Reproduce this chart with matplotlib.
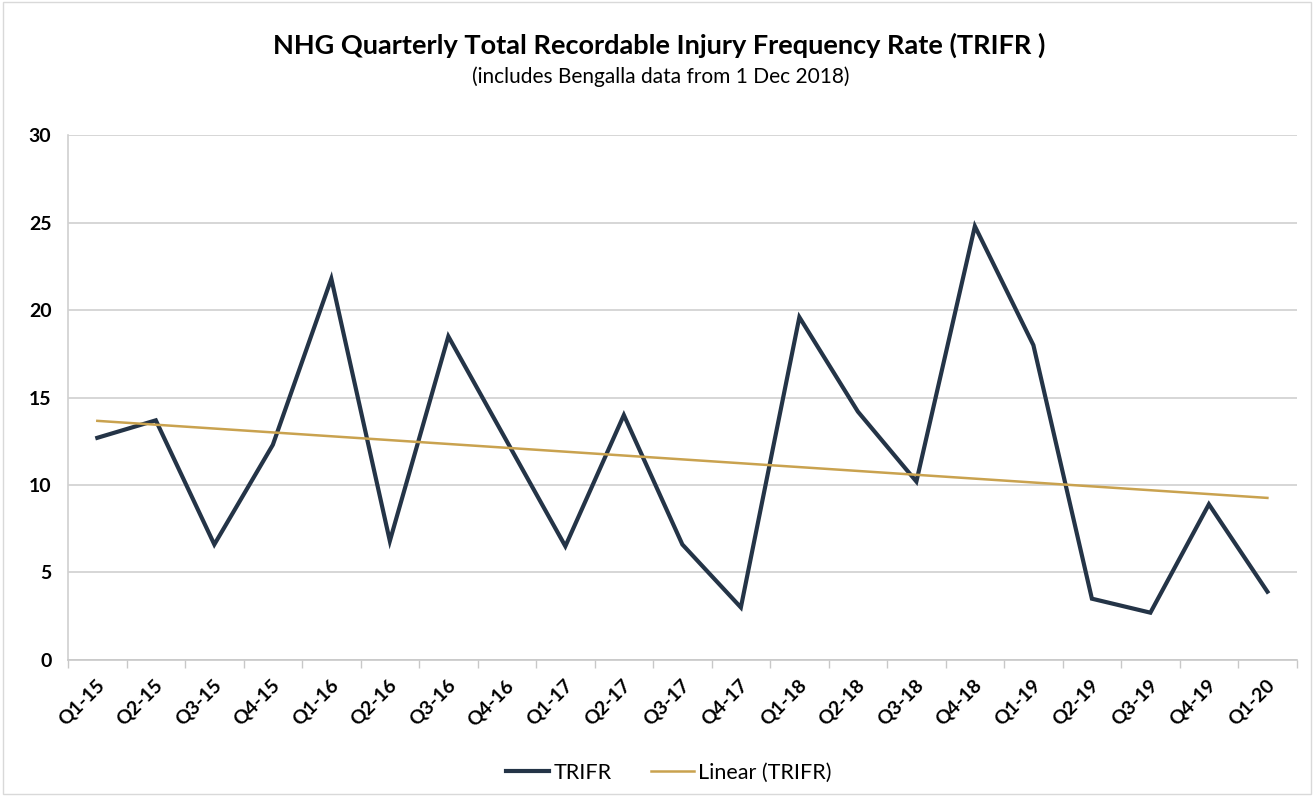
import numpy as np
import matplotlib.pyplot as plt
from matplotlib.ticker import FixedLocator
from matplotlib.transforms import ScaledTranslation

plt.rcParams['font.family'] = ['Lato', 'DejaVu Sans']

quarters = ['Q1-15', 'Q2-15', 'Q3-15', 'Q4-15', 'Q1-16', 'Q2-16', 'Q3-16',
            'Q4-16', 'Q1-17', 'Q2-17', 'Q3-17', 'Q4-17', 'Q1-18', 'Q2-18',
            'Q3-18', 'Q4-18', 'Q1-19', 'Q2-19', 'Q3-19', 'Q4-19', 'Q1-20']
trifr = [12.7, 13.7, 6.6, 12.3, 21.8, 6.8, 18.5,
         12.5, 6.5, 14.0, 6.6, 3.0, 19.6, 14.2,
         10.2, 24.8, 18.0, 3.5, 2.7, 8.9, 3.9]
yticks = [0, 5, 10, 15, 20, 25, 30]

x = np.arange(len(quarters))
y = np.array(trifr)
# linear trendline like Excel's "Linear (TRIFR)"
slope, intercept = np.polyfit(x, y, 1)
trend = slope * x + intercept

fig = plt.figure(figsize=(13.14, 7.96), dpi=100)
ax = fig.add_axes([0.0518, 0.171, 0.935, 0.659])

ax.plot(x, y, color='#243447', linewidth=3.0, label='TRIFR', solid_joinstyle='miter')
ax.plot(x, trend, color='#c9a24f', linewidth=1.8, label='Linear (TRIFR)')

ax.set_xlim(-0.5, len(quarters) - 0.5)
ax.set_ylim(0, 30)
ax.set_yticks(yticks)
ax.set_yticklabels([str(t) for t in yticks], fontsize=14, fontweight='bold')
ax.set_xticks(x)
ax.set_xticklabels(quarters, rotation=45, ha='right', rotation_mode='anchor',
                   fontsize=14, fontweight='bold')
ax.xaxis.set_minor_locator(FixedLocator(np.arange(-0.5, len(quarters), 1)))
ax.tick_params(axis='x', which='major', length=0, pad=12)
ax.tick_params(axis='x', which='minor', length=6, color='#c8c8c8', width=1)
ax.tick_params(axis='y', length=0, pad=12)
for lab in ax.get_xticklabels():
    lab.set_transform(lab.get_transform() + ScaledTranslation(-0.02, 0, fig.dpi_scale_trans))

ax.grid(axis='y', color='#d0d0d0', linewidth=1.2)
ax.set_axisbelow(True)
for s in ['top', 'right']:
    ax.spines[s].set_visible(False)
ax.spines['left'].set_color('#d0d0d0')
ax.spines['bottom'].set_color('#c8c8c8')
ax.spines['left'].set_linewidth(1.2)
ax.spines['bottom'].set_linewidth(1.2)

fig.text(0.502, 0.943, 'NHG Quarterly Total Recordable Injury Frequency Rate (TRIFR )',
         ha='center', va='center', fontsize=19.5, fontweight='bold')
fig.text(0.503, 0.904, '(includes Bengalla data from 1 Dec 2018)',
         ha='center', va='center', fontsize=15)

fig.legend(loc='center', bbox_to_anchor=(0.509, 0.029), ncol=2, frameon=False,
           fontsize=15.5, handlelength=2.0, columnspacing=1.8, handletextpad=0.2)

fig.patches.append(plt.Rectangle((0.002, 0.002), 0.996, 0.996, transform=fig.transFigure,
                                 fill=False, edgecolor='#d9d9d9', linewidth=1))

fig.savefig('out.png', dpi=100)
